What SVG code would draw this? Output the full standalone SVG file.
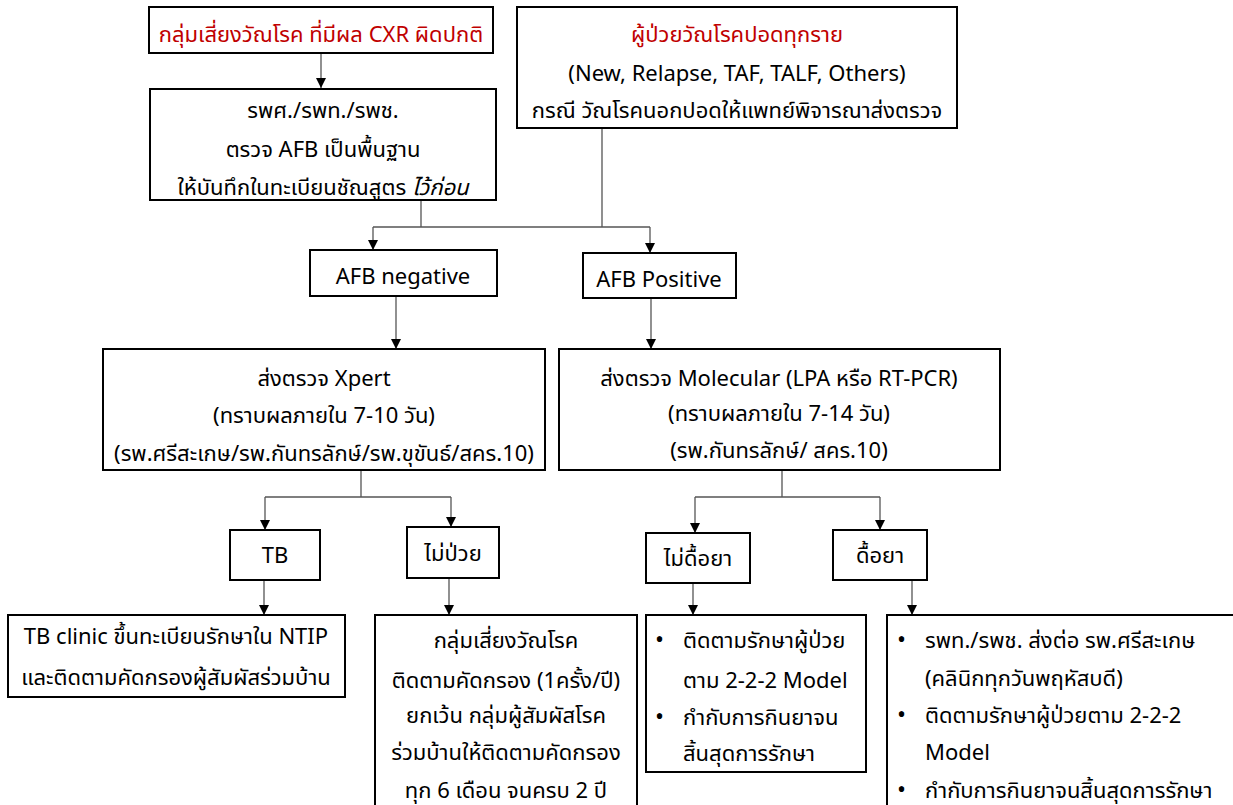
<svg xmlns="http://www.w3.org/2000/svg" width="1233" height="805" viewBox="0 0 1233 805">
<style>
.box{fill:#fff;stroke:#000;stroke-width:2}
.t{font-family:"Noto Sans","Noto Sans Thai","DejaVu Sans",sans-serif;font-size:22px;fill:#000}
.c{text-anchor:middle}
.red{fill:#c00000}
.ln{fill:none;stroke:#555;stroke-width:1.3}
.b{font-size:24px}
</style>
<defs>
<marker id="ah" viewBox="0 0 10 10" refX="10" refY="5" markerWidth="10" markerHeight="10" markerUnits="userSpaceOnUse" orient="auto">
<path d="M0,0 L10,5 L0,10 Z" fill="#000"/>
</marker>
</defs>
<rect width="1233" height="805" fill="#fff"/>
<g id="connectors">
<path class="ln" d="M321,53 V88" marker-end="url(#ah)"/>
<path class="ln" d="M421,200 V227 M602,128 V227 M373,227 H650"/>
<path class="ln" d="M373,227 V250" marker-end="url(#ah)"/>
<path class="ln" d="M650,227 V253" marker-end="url(#ah)"/>
<path class="ln" d="M396,296 V349" marker-end="url(#ah)"/>
<path class="ln" d="M651,298 V349" marker-end="url(#ah)"/>
<path class="ln" d="M361,470 V497 M265,497 H451"/>
<path class="ln" d="M265,497 V530" marker-end="url(#ah)"/>
<path class="ln" d="M451,497 V527" marker-end="url(#ah)"/>
<path class="ln" d="M782,470 V497 M695,497 H880"/>
<path class="ln" d="M695,497 V533" marker-end="url(#ah)"/>
<path class="ln" d="M880,497 V530" marker-end="url(#ah)"/>
<path class="ln" d="M264,580 V615" marker-end="url(#ah)"/>
<path class="ln" d="M449,578 V615" marker-end="url(#ah)"/>
<path class="ln" d="M693,583 V615" marker-end="url(#ah)"/>
<path class="ln" d="M912,580 V615" marker-end="url(#ah)"/>
</g>
<g id="n1"><rect class="box" x="149" y="7" width="344" height="46"/>
<text class="t c red" x="321" y="42">กลุ่มเสี่ยงวัณโรค ที่มีผล CXR ผิดปกติ</text></g>
<g id="n2"><rect class="box" x="150" y="89" width="346" height="111"/>
<text class="t c" x="323" y="118">รพศ./รพท./รพช.</text>
<text class="t c" x="323" y="157">ตรวจ AFB เป็นพื้นฐาน</text>
<text class="t c" x="323" y="195">ให้บันทึกในทะเบียนชัณสูตร <tspan font-style="italic">ไว้ก่อน</tspan></text></g>
<g id="n3"><rect class="box" x="517" y="7" width="440" height="121"/>
<text class="t c red" x="737" y="42">ผู้ป่วยวัณโรคปอดทุกราย</text>
<text class="t c" x="737" y="81">(New, Relapse, TAF, TALF, Others)</text>
<text class="t c" x="737" y="118">กรณี วัณโรคนอกปอดให้แพทย์พิจารณาส่งตรวจ</text></g>
<g id="n4"><rect class="box" x="310" y="250" width="187" height="46"/>
<text class="t c" x="403" y="284">AFB negative</text></g>
<g id="n5"><rect class="box" x="583" y="253" width="153" height="45"/>
<text class="t c" x="659" y="287">AFB Positive</text></g>
<g id="n6"><rect class="box" x="103" y="349" width="442" height="121"/>
<text class="t c" x="324" y="386">ส่งตรวจ Xpert</text>
<text class="t c" x="324" y="423">(ทราบผลภายใน 7-10 วัน)</text>
<text class="t c" x="324" y="461">(รพ.ศรีสะเกษ/รพ.กันทรลักษ์/รพ.ขุขันธ์/สคร.10)</text></g>
<g id="n7"><rect class="box" x="559" y="349" width="441" height="121"/>
<text class="t c" x="779" y="386">ส่งตรวจ Molecular (LPA หรือ RT-PCR)</text>
<text class="t c" x="779" y="421">(ทราบผลภายใน 7-14 วัน)</text>
<text class="t c" x="779" y="458">(รพ.กันทรลักษ์/ สคร.10)</text></g>
<g id="n8"><rect class="box" x="230" y="530" width="90" height="50"/>
<text class="t c" x="275" y="563">TB</text></g>
<g id="n9"><rect class="box" x="407" y="527" width="92" height="51"/>
<text class="t c" x="453" y="561">ไม่ป่วย</text></g>
<g id="n10"><rect class="box" x="646" y="533" width="104" height="50"/>
<text class="t c" x="698" y="566">ไม่ดื้อยา</text></g>
<g id="n11"><rect class="box" x="833" y="530" width="94" height="50"/>
<text class="t c" x="880" y="563">ดื้อยา</text></g>
<g id="n12"><rect class="box" x="8" y="615" width="337" height="82"/>
<text class="t c" x="176" y="644">TB clinic ขึ้นทะเบียนรักษาใน NTIP</text>
<text class="t c" x="176" y="685">และติดตามคัดกรองผู้สัมผัสร่วมบ้าน</text></g>
<g id="n13"><rect class="box" x="375" y="615" width="262" height="195"/>
<text class="t c" x="506" y="648">กลุ่มเสี่ยงวัณโรค</text>
<text class="t c" x="506" y="688">ติดตามคัดกรอง (1ครั้ง/ปี)</text>
<text class="t c" x="506" y="723">ยกเว้น กลุ่มผู้สัมผัสโรค</text>
<text class="t c" x="506" y="760">ร่วมบ้านให้ติดตามคัดกรอง</text>
<text class="t c" x="506" y="798">ทุก 6 เดือน จนครบ 2 ปี</text></g>
<g id="n14"><rect class="box" x="646" y="615" width="220" height="157"/>
<text class="t b" x="655" y="648">•</text><text class="t" x="683" y="648">ติดตามรักษาผู้ป่วย</text>
<text class="t" x="683" y="688">ตาม 2-2-2 Model</text>
<text class="t b" x="655" y="725">•</text><text class="t" x="683" y="725">กำกับการกินยาจน</text>
<text class="t" x="683" y="761">สิ้นสุดการรักษา</text></g>
<g id="n15"><rect class="box" x="887" y="615" width="350" height="195"/>
<text class="t b" x="897" y="648">•</text><text class="t" x="925" y="648">รพท./รพช. ส่งต่อ รพ.ศรีสะเกษ</text>
<text class="t" x="925" y="686">(คลินิกทุกวันพฤหัสบดี)</text>
<text class="t b" x="897" y="723">•</text><text class="t" x="925" y="723">ติดตามรักษาผู้ป่วยตาม 2-2-2</text>
<text class="t" x="925" y="760">Model</text>
<text class="t b" x="897" y="798">•</text><text class="t" x="925" y="798">กำกับการกินยาจนสิ้นสุดการรักษา</text></g>
</svg>
